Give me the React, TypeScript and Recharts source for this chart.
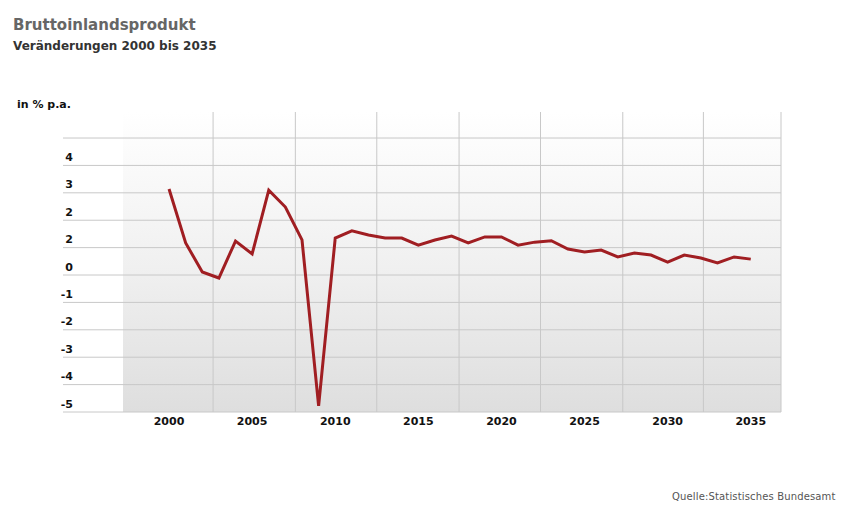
import {
  Line,
  LineChart,
  ReferenceArea,
  ReferenceLine,
  XAxis,
  YAxis,
} from "recharts";

// Jahre und Veränderung des BIP in % p.a.
const YEARS = [
  2000, 2001, 2002, 2003, 2004, 2005, 2006, 2007, 2008, 2009, 2010, 2011,
  2012, 2013, 2014, 2015, 2016, 2017, 2018, 2019, 2020, 2021, 2022, 2023,
  2024, 2025, 2026, 2027, 2028, 2029, 2030, 2031, 2032, 2033, 2034, 2035,
];
const GDP_CHANGE = [
  3.14, 1.17, 0.11, -0.11, 1.24, 0.77, 3.1, 2.48, 1.28, -4.78, 1.35, 1.61,
  1.46, 1.35, 1.35, 1.09, 1.28, 1.42, 1.17, 1.39, 1.39, 1.09, 1.2, 1.25,
  0.95, 0.84, 0.91, 0.66, 0.8, 0.73, 0.47, 0.73, 0.62, 0.44, 0.66, 0.58,
];

const X_TICKS = [2000, 2005, 2010, 2015, 2020, 2025, 2030, 2035];
const X_GRID = [2002.65, 2007.6, 2012.5, 2017.45, 2022.35, 2027.3, 2032.15];
const X_DOMAIN: [number, number] = [1993.62, 2036.82];
const BG_START = 1997.23;

const Y_TICKS = [-5, -4, -3, -2, -1, 0, 1, 2, 3, 4, 5];
const Y_LABELS = ["-5", "-4", "-3", "-2", "-1", "0", "2", "2", "3", "4", ""];
const Y_DOMAIN: [number, number] = [-5, 5.95];

const data = YEARS.map((year, i) => ({ year, value: GDP_CHANGE[i] }));

const FONT = "'DejaVu Sans', Verdana, sans-serif";
const GRID = "#c8c8c8";

// Beschriftung sitzt rechtsbündig im Plotbereich, knapp über der Gitterlinie
function YTick(props: any) {
  const { x, y, payload } = props;
  const idx = Y_TICKS.indexOf(payload.value);
  return (
    <text
      x={x + 10}
      y={y - 8}
      textAnchor="end"
      dominantBaseline="central"
      fontFamily={FONT}
      fontSize={11}
      fontWeight="bold"
      fill="#111"
    >
      {Y_LABELS[idx]}
    </text>
  );
}

export default function App() {
  return (
    <div
      style={{
        position: "relative",
        width: 834,
        height: 515,
        background: "#fff",
        fontFamily: FONT,
      }}
    >
      <div
        style={{
          position: "absolute",
          left: 5,
          top: 10,
          fontSize: 15,
          lineHeight: "15px",
          fontWeight: "bold",
          color: "#666",
          whiteSpace: "nowrap",
        }}
      >
        Bruttoinlandsprodukt
      </div>
      <div
        style={{
          position: "absolute",
          left: 5,
          top: 32,
          fontSize: 12,
          lineHeight: "12px",
          fontWeight: "bold",
          color: "#333",
          whiteSpace: "nowrap",
        }}
      >
        Veränderungen 2000 bis 2035
      </div>
      <div
        style={{
          position: "absolute",
          left: 9,
          top: 91,
          fontSize: 11,
          lineHeight: "11px",
          fontWeight: "bold",
          color: "#111",
          whiteSpace: "nowrap",
        }}
      >
        in % p.a.
      </div>
      <div
        style={{
          position: "absolute",
          left: 664,
          top: 484,
          fontSize: 10,
          lineHeight: "10px",
          letterSpacing: 0.15,
          color: "#555",
          whiteSpace: "nowrap",
        }}
      >
        Quelle:Statistisches Bundesamt
      </div>
      <div style={{ position: "absolute", left: 0, top: 0 }}>
        <LineChart
          width={834}
          height={515}
          data={data}
          margin={{ top: 104, right: 61, bottom: 81, left: 35 }}
        >
          <defs>
            <linearGradient id="plotBg" x1="0" y1="0" x2="0" y2="1">
              <stop offset="0%" stopColor="#ffffff" />
              <stop offset="55%" stopColor="#efefef" />
              <stop offset="100%" stopColor="#dedede" />
            </linearGradient>
          </defs>
          <ReferenceArea
            x1={BG_START}
            x2={X_DOMAIN[1]}
            y1={Y_DOMAIN[0]}
            y2={Y_DOMAIN[1]}
            fill="url(#plotBg)"
            fillOpacity={1}
            stroke="none"
          />
          {Y_TICKS.map((t) => (
            <ReferenceLine key={`h${t}`} y={t} stroke={GRID} />
          ))}
          {X_GRID.map((g) => (
            <ReferenceLine key={`v${g}`} x={g} stroke={GRID} />
          ))}
          <ReferenceLine x={X_DOMAIN[1]} stroke={GRID} />
          <XAxis
            dataKey="year"
            type="number"
            domain={X_DOMAIN}
            ticks={X_TICKS}
            allowDataOverflow
            axisLine={false}
            tickLine={false}
            tickSize={0}
            tickMargin={5}
            height={30}
            tick={{
              fontFamily: FONT,
              fontSize: 11,
              fontWeight: "bold",
              fill: "#111",
            }}
          />
          <YAxis
            type="number"
            domain={Y_DOMAIN}
            ticks={Y_TICKS}
            allowDataOverflow
            width={20}
            axisLine={false}
            tickLine={false}
            tickSize={0}
            tickMargin={0}
            tick={<YTick />}
          />
          <Line
            type="linear"
            dataKey="value"
            stroke="#a01e22"
            strokeWidth={3}
            dot={false}
            activeDot={false}
            isAnimationActive={false}
          />
        </LineChart>
      </div>
    </div>
  );
}
